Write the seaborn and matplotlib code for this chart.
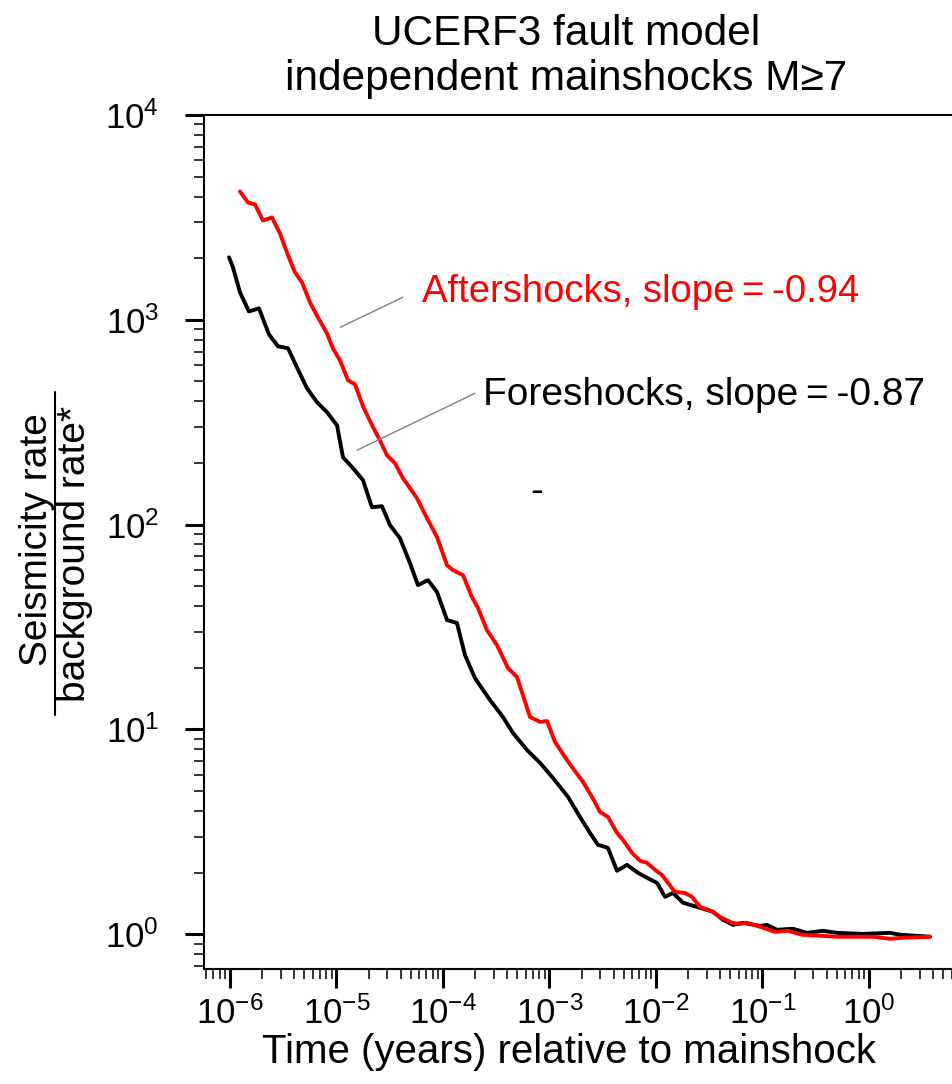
import numpy as np
import pandas as pd
import seaborn as sns
import matplotlib.pyplot as plt
from matplotlib.lines import Line2D
from matplotlib.ticker import LogLocator

# values, stored as log10 exponents
fore_log_t = [-6.009, -5.972, -5.906, -5.822, -5.728, -5.634, -5.549, -5.455, -5.371, -5.277,
              -5.183, -5.089, -4.995, -4.939, -4.845, -4.751, -4.667, -4.573, -4.498, -4.404,
              -4.310, -4.235, -4.141, -4.056, -3.962, -3.869, -3.793, -3.700, -3.559, -3.437,
              -3.343, -3.211, -3.089, -2.967, -2.826, -2.714, -2.620, -2.545, -2.451, -2.366,
              -2.272, -2.169, -2.085, -1.991, -1.915, -1.840, -1.746, -1.615, -1.465, -1.371,
              -1.277, -1.183, -1.023, -0.958, -0.864, -0.714, -0.582, -0.432, -0.300, -0.056,
              0.197, 0.291, 0.573]
fore_log_rate = [3.305, 3.256, 3.134, 3.041, 3.056, 2.929, 2.871, 2.861, 2.768, 2.666,
                 2.598, 2.549, 2.485, 2.329, 2.276, 2.217, 2.085, 2.090, 1.998, 1.934,
                 1.812, 1.705, 1.729, 1.671, 1.534, 1.520, 1.363, 1.251, 1.144, 1.061,
                 0.983, 0.900, 0.837, 0.763, 0.671, 0.573, 0.495, 0.437, 0.422, 0.310,
                 0.339, 0.300, 0.276, 0.251, 0.183, 0.202, 0.154, 0.134, 0.110, 0.071,
                 0.046, 0.056, 0.041, 0.046, 0.022, 0.027, 0.007, 0.017, 0.007, 0.002,
                 0.007, -0.002, -0.012]

after_log_t = [-5.906, -5.831, -5.765, -5.690, -5.606, -5.531, -5.455, -5.390, -5.324, -5.249,
               -5.174, -5.089, -5.033, -4.967, -4.892, -4.826, -4.751, -4.657, -4.592, -4.526,
               -4.451, -4.376, -4.244, -4.150, -4.056, -3.962, -3.906, -3.812, -3.728, -3.671,
               -3.587, -3.493, -3.390, -3.305, -3.183, -3.089, -3.023, -2.948, -2.836, -2.789,
               -2.685, -2.601, -2.526, -2.451, -2.366, -2.310, -2.225, -2.150, -2.085, -2.009,
               -1.944, -1.822, -1.728, -1.662, -1.587, -1.465, -1.399, -1.286, -1.211, -1.146,
               -1.023, -0.883, -0.761, -0.629, -0.460, -0.300, -0.150, 0.038, 0.197, 0.319,
               0.573]
after_log_rate = [3.627, 3.573, 3.563, 3.485, 3.500, 3.422, 3.315, 3.232, 3.183, 3.085,
                  3.012, 2.934, 2.861, 2.802, 2.705, 2.685, 2.578, 2.476, 2.412, 2.339,
                  2.300, 2.227, 2.129, 2.032, 1.939, 1.802, 1.778, 1.754, 1.646, 1.593,
                  1.485, 1.412, 1.300, 1.256, 1.061, 1.037, 1.041, 0.939, 0.851, 0.817,
                  0.744, 0.671, 0.598, 0.573, 0.495, 0.461, 0.398, 0.359, 0.349, 0.315,
                  0.290, 0.207, 0.202, 0.183, 0.134, 0.110, 0.085, 0.056, 0.051, 0.056,
                  0.037, 0.012, 0.017, -0.002, -0.007, -0.012, -0.012, -0.012, -0.022, -0.017,
                  -0.012]

fore = pd.DataFrame({"t": np.power(10.0, fore_log_t), "rate": np.power(10.0, fore_log_rate)})
after = pd.DataFrame({"t": np.power(10.0, after_log_t), "rate": np.power(10.0, after_log_rate)})

sns.set_theme(style="ticks")
plt.rcParams["font.family"] = ["Liberation Sans", "DejaVu Sans"]
plt.rcParams["mathtext.fontset"] = "custom"
plt.rcParams["mathtext.rm"] = "Liberation Sans"
plt.rcParams["mathtext.it"] = "Liberation Sans:italic"
plt.rcParams["mathtext.bf"] = "Liberation Sans:bold"
plt.rcParams["axes.linewidth"] = 1.5
plt.rcParams["text.color"] = "black"
plt.rcParams["axes.edgecolor"] = "black"
plt.rcParams["xtick.color"] = "black"
plt.rcParams["ytick.color"] = "black"
plt.rcParams["xtick.labelsize"] = 25
plt.rcParams["ytick.labelsize"] = 25

fig = plt.figure(figsize=(9.53, 10.84), dpi=100)
ax = fig.add_axes([0.2144, 0.1058, 0.7856, 0.7881])
ax.set_xscale("log")
ax.set_yscale("log")

sns.lineplot(data=fore, x="t", y="rate", ax=ax, color="black", lw=2.8,
             estimator=None, sort=False)
sns.lineplot(data=after, x="t", y="rate", ax=ax, color="red", lw=2.8,
             estimator=None, sort=False)

ax.set_xlim(10 ** -6.241, 10 ** 0.789)
ax.set_ylim(10 ** -0.171, 1e4)
ax.xaxis.set_major_locator(LogLocator(base=10, numticks=20))
ax.xaxis.set_minor_locator(LogLocator(base=10, subs=np.arange(2, 10), numticks=20))
ax.yaxis.set_major_locator(LogLocator(base=10, numticks=20))
ax.yaxis.set_minor_locator(LogLocator(base=10, subs=np.arange(2, 10), numticks=20))
ax.spines["right"].set_visible(False)
ax.set_xlabel("")
ax.set_ylabel("")

ax.tick_params(which="major", direction="out", length=13.7, width=2.2,
               labelsize=25, color="black", labelcolor="black")
ax.tick_params(axis="x", which="major", pad=6)
ax.tick_params(axis="y", which="major", pad=19)
ax.tick_params(which="minor", direction="out", length=7, width=1.1, color="black")

# leader lines and labels
ax.annotate("", xy=(1.08e-5, 919), xytext=(4.2e-5, 1288),
            arrowprops=dict(arrowstyle="-", color="gray", lw=1.0, shrinkA=0, shrinkB=0))
ax.annotate("", xy=(1.56e-5, 231), xytext=(2.0e-4, 438),
            arrowprops=dict(arrowstyle="-", color="gray", lw=1.0, shrinkA=0, shrinkB=0))
ax.text(6.35e-5, 1217, "Aftershocks, slope\u2009=\u2009-0.94", color="red",
        fontsize=27.5, ha="left", va="baseline")
ax.text(2.4e-4, 383, "Foreshocks, slope\u2009=\u2009-0.87", color="black",
        fontsize=28, ha="left", va="baseline")
ax.text(7.6e-4, 145, "-", color="black", fontsize=27.5, ha="center", va="center")

fig.text(566 / 953, 1 - 14 / 1084, "UCERF3 fault model\nindependent mainshocks M\u22657",
         ha="center", va="top", fontsize=30.5, linespacing=1.15, color="black")
fig.text(569 / 953, 1 - 1052 / 1084, "Time (years) relative to mainshock",
         ha="center", va="center", fontsize=29, color="black")

# y label drawn as a fraction
fig.text(37 / 953, 1 - 540 / 1084, "Seismicity rate", rotation=90,
         ha="center", va="center", fontsize=28, color="black")
fig.text(75 / 953, 1 - 554 / 1084, "background rate*", rotation=90,
         ha="center", va="center", fontsize=28, color="black")
fig.add_artist(Line2D([55 / 953, 55 / 953], [1 - 392 / 1084, 1 - 715 / 1084],
                      transform=fig.transFigure, color="black", lw=1.5))

fig.savefig("out.png", dpi=100)
